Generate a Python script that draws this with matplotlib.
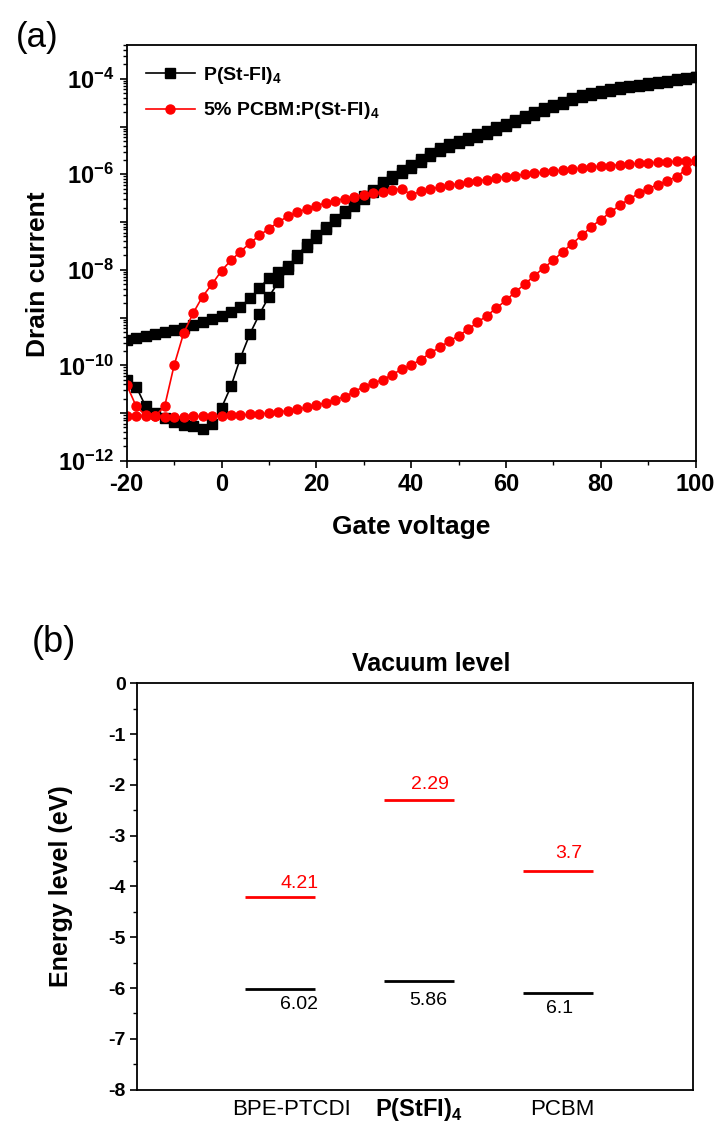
import numpy as np
import matplotlib
matplotlib.use('Agg')
import matplotlib.pyplot as plt
import matplotlib.transforms as mtransforms
from matplotlib.ticker import LogLocator, MultipleLocator, FuncFormatter, NullFormatter

plt.rcParams['font.family'] = ['Liberation Sans', 'DejaVu Sans']
plt.rcParams['font.weight'] = 'bold'
plt.rcParams['axes.labelweight'] = 'bold'
plt.rcParams['axes.unicode_minus'] = False
plt.rcParams['mathtext.fontset'] = 'custom'
plt.rcParams['mathtext.rm'] = 'Liberation Sans'
plt.rcParams['mathtext.bf'] = 'Liberation Sans:bold'

# ---- panel (a): transfer curves, log10 of drain current ----
gate_v = [-20, -18, -16, -14, -12, -10, -8, -6, -4, -2, 0, 2, 4, 6, 8, 10, 12, 14, 16, 18,
          20, 22, 24, 26, 28, 30, 32, 34, 36, 38, 40, 42, 44, 46, 48, 50, 52, 54, 56, 58,
          60, 62, 64, 66, 68, 70, 72, 74, 76, 78, 80, 82, 84, 86, 88, 90, 92, 94, 96, 98, 100]

# P(St-FI)4, sweep -20 -> 100
black_fwd = [-10.30, -10.45, -10.86, -11.00, -11.10, -11.18, -11.25, -11.28, -11.33, -11.22,
             -10.89, -10.44, -9.84, -9.34, -8.93, -8.56, -8.26, -7.98, -7.75, -7.53,
             -7.33, -7.15, -6.98, -6.82, -6.66, -6.51, -6.37, -6.22, -6.09, -5.97,
             -5.86, -5.74, -5.61, -5.51, -5.42, -5.35, -5.28, -5.21, -5.15, -5.07,
             -4.99, -4.91, -4.83, -4.75, -4.67, -4.59, -4.52, -4.45, -4.39, -4.33,
             -4.29, -4.25, -4.21, -4.18, -4.15, -4.12, -4.09, -4.06, -4.03, -4.00, -3.97]
# P(St-FI)4, sweep 100 -> -20 (listed at ascending gate voltage)
black_bwd = [-9.47, -9.43, -9.39, -9.35, -9.31, -9.26, -9.21, -9.16, -9.10, -9.03,
             -8.96, -8.88, -8.77, -8.60, -8.38, -8.17, -8.04, -7.93, -7.70, -7.47,
             -7.28, -7.10, -6.93, -6.77, -6.61, -6.46, -6.32, -6.17, -6.04, -5.92,
             -5.80, -5.69, -5.56, -5.46, -5.37, -5.30, -5.23, -5.16, -5.10, -5.02,
             -4.94, -4.86, -4.78, -4.70, -4.62, -4.55, -4.48, -4.41, -4.35, -4.30,
             -4.26, -4.22, -4.18, -4.15, -4.12, -4.09, -4.06, -4.04, -4.01, -3.99, -3.97]
# 5% PCBM:P(St-FI)4, sweep -20 -> 100
red_fwd = [-10.41, -10.86, -11.05, -11.07, -11.08, -11.08, -11.08, -11.07, -11.07, -11.07,
           -11.06, -11.05, -11.04, -11.03, -11.02, -11.00, -10.98, -10.95, -10.92, -10.88,
           -10.84, -10.78, -10.72, -10.66, -10.55, -10.45, -10.38, -10.30, -10.20, -10.08,
           -10.00, -9.88, -9.75, -9.62, -9.50, -9.38, -9.25, -9.10, -8.96, -8.80,
           -8.64, -8.46, -8.30, -8.12, -7.96, -7.80, -7.62, -7.45, -7.28, -7.10,
           -6.95, -6.80, -6.65, -6.52, -6.40, -6.30, -6.22, -6.14, -6.05, -5.90, -5.72]
# 5% PCBM:P(St-FI)4, sweep 100 -> -20 (listed at ascending gate voltage)
red_bwd = [-11.07, -11.07, -11.07, -11.06, -10.86, -10.00, -9.33, -8.91, -8.56, -8.30,
           -8.02, -7.80, -7.62, -7.44, -7.28, -7.14, -7.00, -6.88, -6.80, -6.72,
           -6.66, -6.60, -6.55, -6.51, -6.47, -6.43, -6.40, -6.37, -6.33, -6.30,
           -6.43, -6.36, -6.31, -6.27, -6.23, -6.20, -6.17, -6.14, -6.11, -6.08,
           -6.05, -6.03, -6.00, -5.98, -5.96, -5.94, -5.91, -5.89, -5.87, -5.85,
           -5.83, -5.82, -5.80, -5.79, -5.77, -5.76, -5.75, -5.74, -5.73, -5.72, -5.71]

# ---- panel (b): energy levels ----
materials = ['BPE-PTCDI', r'P(StFI)$_\mathdefault{4}$', 'PCBM']
lumo = [4.21, 2.29, 3.7]
homo = [6.02, 5.86, 6.1]

fig = plt.figure(figsize=(7.2, 11.35), dpi=100)

# ================= (a) =================
ax1 = fig.add_axes([0.176, 0.594, 0.790, 0.366])
v = np.array(gate_v)
loop_v = np.concatenate([v, v[::-1]])
ax1.plot(loop_v, 10.0 ** np.concatenate([black_fwd, black_bwd[::-1]]),
         color='black', lw=1.2, marker='s', ms=7, label=r'P(St-FI)$_\mathdefault{4}$')
ax1.plot(loop_v, 10.0 ** np.concatenate([red_fwd, red_bwd[::-1]]),
         color='red', lw=1.2, marker='o', ms=6.5, label=r'5% PCBM:P(St-FI)$_\mathdefault{4}$')
ax1.set_yscale('log')
ax1.set_xlim(-20, 100)
ax1.set_ylim(1e-12, 5e-4)
ax1.xaxis.set_major_locator(MultipleLocator(20))
ax1.xaxis.set_minor_locator(MultipleLocator(10))
ax1.yaxis.set_major_locator(LogLocator(base=10, numticks=20))
ax1.yaxis.set_minor_locator(LogLocator(base=10, subs=np.arange(2, 10), numticks=20))
ax1.yaxis.set_minor_formatter(NullFormatter())


def even_decades(val, pos):
    e = int(round(np.log10(val)))
    return r'$\mathdefault{10^{%d}}$' % e if e % 2 == 0 else ''


ax1.yaxis.set_major_formatter(FuncFormatter(even_decades))
ax1.tick_params(which='major', direction='out', length=5, width=1.2, labelsize=17, pad=4)
ax1.tick_params(which='minor', direction='out', length=3, width=1.0)
for sp in ax1.spines.values():
    sp.set_linewidth(1.3)
ax1.set_xlabel('Gate voltage', fontsize=19)
ax1.set_ylabel('Drain current', fontsize=19)
ax1.xaxis.set_label_coords(0.5, -0.13)
ax1.yaxis.set_label_coords(-0.135, 0.45)
ax1.legend(loc='upper left', frameon=False, fontsize=14, handlelength=2.5,
           handletextpad=0.4, borderaxespad=0.6, labelspacing=0.75, numpoints=1)
fig.text(0.022, 0.967, '(a)', fontsize=25, fontweight='normal', va='center')

# ================= (b) =================
ax2 = fig.add_axes([0.190, 0.040, 0.772, 0.358])
xs = [1, 2, 3]
ax2.hlines([-e for e in lumo], [x - 0.25 for x in xs], [x + 0.25 for x in xs],
           color='red', lw=2)
ax2.hlines([-e for e in homo], [x - 0.25 for x in xs], [x + 0.25 for x in xs],
           color='black', lw=2)
lumo_dx = [0.14, 0.08, 0.08]
lumo_dy = [0.27, 0.30, 0.34]
homo_dx = [0.14, 0.07, 0.01]
homo_dy = [-0.30, -0.38, -0.30]
for i, x in enumerate(xs):
    ax2.text(x + lumo_dx[i], -lumo[i] + lumo_dy[i], str(lumo[i]), color='red',
             fontsize=14, fontweight='normal', ha='center', va='center')
    ax2.text(x + homo_dx[i], -homo[i] + homo_dy[i], str(homo[i]), color='black',
             fontsize=14, fontweight='normal', ha='center', va='center')
ax2.set_xlim(-0.03, 3.97)
ax2.set_ylim(-8, 0)
ax2.set_xticks([])
ax2.yaxis.set_major_locator(MultipleLocator(1))
ax2.yaxis.set_minor_locator(MultipleLocator(0.5))
ax2.yaxis.set_major_formatter(FuncFormatter(lambda val, pos: '%d' % val))
ax2.tick_params(which='major', direction='out', length=5, width=1.2, labelsize=14, pad=3)
ax2.tick_params(which='minor', direction='out', length=3, width=1.0)
for sp in ax2.spines.values():
    sp.set_linewidth(1.3)
ax2.set_ylabel('Energy level (eV)', fontsize=18)
ax2.yaxis.set_label_coords(-0.115, 0.5)
ax2.text(0.53, 1.047, 'Vacuum level', transform=ax2.transAxes, fontsize=18,
         ha='center', va='center')
trans = mtransforms.blended_transform_factory(ax2.transData, ax2.transAxes)
cat_dx = [0.08, 0.0, 0.03]
cat_weight = ['normal', 'bold', 'normal']
cat_size = [16, 17, 16]
for i, x in enumerate(xs):
    ax2.text(x + cat_dx[i], -0.05, materials[i], transform=trans, ha='center', va='center',
             fontsize=cat_size[i], fontweight=cat_weight[i])
fig.text(0.044, 0.434, '(b)', fontsize=26, fontweight='normal', va='center')

fig.savefig('out.png', dpi=100)
